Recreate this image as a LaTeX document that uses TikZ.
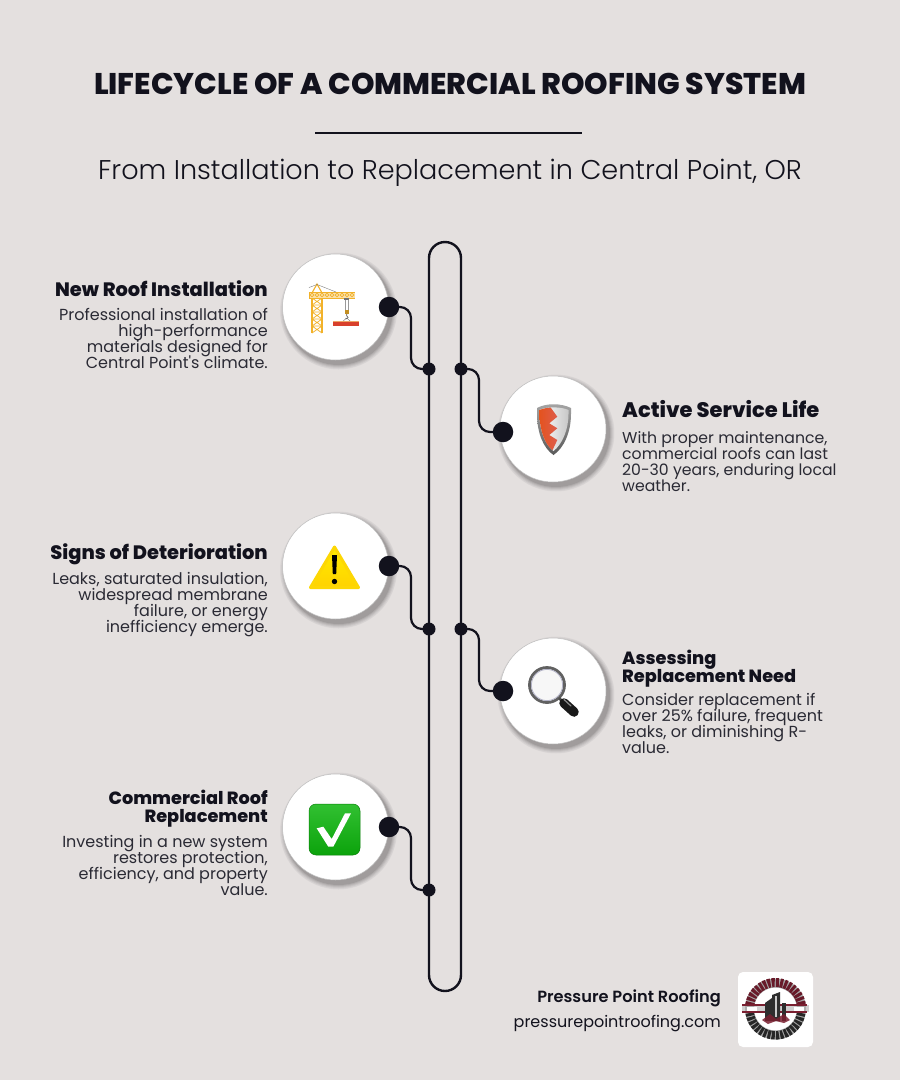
\documentclass[tikz,border=0pt]{standalone}
\usepackage{fontspec}
\setmainfont{Poppins}
\newfontfamily\pblack{Poppins ExtraBold}
\newfontfamily\plight{Poppins Light}
\newfontfamily\psemi{Poppins SemiBold}
\usetikzlibrary{calc}
\definecolor{bg}{HTML}{E4E0DF}
\definecolor{ink}{HTML}{12121D}
\definecolor{crane}{HTML}{F2B22A}
\definecolor{beam}{HTML}{D8402C}
\definecolor{okgreen}{HTML}{0DB50D}
\definecolor{maroon}{HTML}{7A1F30}
\newcommand{\tightlines}{\lineskiplimit=-20pt\relax}
\tikzset{
 x=1pt,y=-1pt,
 rail/.style={draw=ink,line width=2.4pt},
 link/.style={draw=ink,line width=2.2pt,rounded corners=11pt},
 bigdot/.style={circle,fill=ink,minimum size=20.5pt,inner sep=0pt},
 smalldot/.style={circle,fill=ink,minimum size=13pt,inner sep=0pt},
 disc/.style={circle,fill=white,draw=black!25,line width=.5pt,minimum size=106pt,inner sep=0pt},
 head/.style={font=\pblack\fontsize{17.7}{18}\selectfont\tightlines,text=ink,inner sep=0pt},
 headl/.style={font=\pblack\fontsize{19.4}{18}\selectfont,text=ink,inner sep=0pt},
 headr/.style={font=\pblack\fontsize{21}{18}\selectfont,text=ink,inner sep=0pt},
 body/.style={font=\fontsize{16}{16}\selectfont\tightlines,text=ink!90,inner sep=0pt},
 bodyr/.style={font=\fontsize{15.7}{16}\selectfont\tightlines,text=ink!90,inner sep=0pt},
}
\newcommand{\softshadow}[2]{%
 \foreach \r/\o in {58.5/.03,58/.03,57/.05,56/.06,55/.07,54/.09}{
  \fill[black,opacity=\o] (#1+3,#2+4) circle (\r pt);
 }}
\begin{document}
\begin{tikzpicture}
\useasboundingbox (0,0) rectangle (900,1080);
\fill[bg] (0,0) rectangle (900,1080);
% title
\node[font=\pblack\fontsize{29.9}{32}\selectfont,text=ink,inner sep=0pt] (title) at (450,84) {LIFECYCLE OF A COMMERCIAL ROOFING SYSTEM};
\coordinate (hrl) at (315,132.5); \coordinate (hrr) at (582,132.5);
\draw[ink,line width=2pt] (hrl) -- (hrr);
\node[font=\plight\fontsize{27.1}{30}\selectfont,text=ink,inner sep=0pt] (sub) at (450,172.5) {From Installation to Replacement in Central Point, OR};
% rail
\draw[rail,rounded corners=16pt] (429,242) rectangle (461,991);
% shadows + discs
\softshadow{335.5}{307}\softshadow{553}{429}\softshadow{335.5}{566}\softshadow{553}{691}\softshadow{335.5}{827}
\node[disc] (c1) at (335.5,307) {};
\node[disc] (c2) at (553,429) {};
\node[disc] (c3) at (335.5,566) {};
\node[disc] (c4) at (553,691) {};
\node[disc] (c5) at (335.5,827) {};
% dots
\node[bigdot] (d1) at (389,307) {};
\node[bigdot] (d2) at (503,432) {};
\node[bigdot] (d3) at (389,566) {};
\node[bigdot] (d4) at (503,691) {};
\node[bigdot] (d5) at (389,827) {};
\node[smalldot] (j1) at (429,369) {};
\node[smalldot] (j2) at (461,369) {};
\node[smalldot] (j3) at (429,629) {};
\node[smalldot] (j4) at (461,629) {};
\node[smalldot] (j5) at (429,890) {};
\coordinate (m1) at (411,340); \coordinate (m2) at (479,400);
\coordinate (m3) at (411,600); \coordinate (m4) at (479,660);
\coordinate (m5) at (411,860);
\draw[link] (d1.center) -| (m1) |- (j1.center);
\draw[link] (j2.center) -| (m2) |- (d2.center);
\draw[link] (d3.center) -| (m3) |- (j3.center);
\draw[link] (j4.center) -| (m4) |- (d4.center);
\draw[link] (d5.center) -| (m5) |- (j5.center);
% texts left
\node[headl,anchor=base east] (h1) at (268,296) {New Roof Installation};
\node[body,anchor=north east,align=right] (b1) at (268,308.5) {Professional installation of\\high-performance\\materials designed for\\Central Point\textquotesingle s climate.};
\node[headl,anchor=base east] (h3) at (268,559) {Signs of Deterioration};
\node[body,anchor=north east,align=right] (b3) at (268,572.5) {Leaks, saturated insulation,\\widespread membrane\\failure, or energy\\inefficiency emerge.};
\node[head,anchor=north east,align=right] (h5) at (268,790) {Commercial Roof\\Replacement};
\node[body,anchor=north east,align=right] (b5) at (268,835.5) {Investing in a new system\\restores protection,\\efficiency, and property\\value.};
% texts right
\node[headr,anchor=base west] (h2) at (622,417) {Active Service Life};
\node[bodyr,anchor=north west,align=left] (b2) at (622,431.5) {With proper maintenance,\\commercial roofs can last\\20-30 years, enduring local\\weather.};
\node[head,anchor=north west,align=left] (h4) at (622,650) {Assessing\\Replacement Need};
\node[body,anchor=north west,align=left] (b4) at (622,693.5) {Consider replacement if\\over 25\% failure, frequent\\leaks, or diminishing R-\\value.};
% footer
\node[font=\psemi\fontsize{16.2}{18}\selectfont,text=ink,anchor=base east,inner sep=0pt] (f1) at (721,1002) {Pressure Point Roofing};
\node[font=\fontsize{16}{18}\selectfont,text=ink,anchor=base east,inner sep=0pt] (f2) at (721,1027) {pressurepointroofing.com};
% logo
\fill[white,rounded corners=5pt] (738,972) rectangle (813,1047);
\draw[black!35,line width=9pt] (775.5,1009) circle (26pt);
\draw[maroon!85!black,line width=9pt,dash pattern=on 3pt off 1.2pt] (749.6,1005) arc (172:8:26.2pt);
\draw[black!85,line width=8.5pt,dash pattern=on 3pt off 1.2pt] (801.2,1013) arc (-8:-172:26pt);
\fill[black!30,opacity=.6] (742,1005) rectangle (809,1012);
\fill[maroon] (742,1004) rectangle (807,1006);
\fill[maroon] (742,1011) rectangle (807,1012.5);
\fill[white] (747,1006.5) rectangle (757,1010.5);
\fill[white] (794,1006.5) rectangle (804,1010.5);
\fill[black!82] (765,1021) -- (765,1003) -- (772,998) -- (772,995) -- (780,992) -- (780,1021) -- cycle;
\fill[black!82] (782,1003) rectangle (786,1021);
\fill[white,opacity=.75] (775,996) rectangle (777,1017);
\fill[maroon,opacity=.85] (762,1020) -- (770,1014) -- (776,1019) -- (784,1014) -- (790,1020) -- (784,1023) -- (776,1021) -- (768,1024) -- cycle;
% crane
\begin{scope}
 \draw[crane,line width=1.1pt] (312,332.5) -- (312,298) (322,332.5) -- (322,298);
 \foreach \y in {298,305,312,319,326}{\draw[crane,line width=.75pt] (312,\y) -- (322,\y+7) (322,\y) -- (312,\y+7) (312,\y) -- (322,\y);}
 \fill[crane!40!white] (309,292) rectangle (355,298);
 \draw[crane,line width=1pt] (309,292) -- (355,292) (309,298) -- (355,298) (309,292) -- (309,298);
 \foreach \x in {312,317,...,352}{\draw[crane,line width=.7pt] (\x,295) circle (1.9pt);}
 \draw[crane,line width=1.1pt] (312.5,292) -- (317,284) -- (321.5,292);
 \draw[black!55,line width=.35pt] (309,287.5) -- (317,284.5) -- (336,292);
 \fill[black!55] (344,297.5) rectangle (349,300);
 \draw[black!40,line width=.5pt] (345.5,300) -- (345.5,310) (348,300) -- (348,310);
 \fill[crane!80!black] (344.5,309.5) rectangle (349,314);
 \draw[black!70,line width=.6pt] (346.7,314) -- (346.7,316) arc (90:-150:1.4pt);
 \draw[black!55,line width=.4pt] (346.7,318) -- (338,325.5) (346.7,318) -- (355,325.5);
 \fill[beam] (333,321) rectangle (359,325.5);
 \fill[crane!60!white,opacity=.7] (333,321) rectangle (359,321.8);
\end{scope}
% shield
\shade[top color=black!35,bottom color=black!65] (537,408) .. controls (546,403) and (561,403) .. (571,408) -- (571,414) .. controls (571,432) and (564,448) .. (553.5,455) .. controls (543,448) and (537,432) .. (537,414) -- cycle;
\shade[left color=white,right color=black!22] (539.5,410) .. controls (546,406.5) and (561,406.5) .. (568.5,410) -- (568.5,414) .. controls (568.5,430) and (562,444.5) .. (553.5,451) .. controls (545,444.5) and (539.5,430) .. (539.5,414) -- cycle;
\shade[left color=beam!70!orange,right color=beam!85!white] (539.5,410) .. controls (543,408.5) and (547,407.8) .. (550.7,407.6) -- (557.3,416.7) -- (549.3,423.3) -- (557.3,428.3) -- (549.3,435) -- (557.3,440) -- (552.5,450.2) .. controls (545,444.5) and (539.5,430) .. (539.5,414) -- cycle;
% warning
\draw[line join=round,line width=3pt,draw=yellow!75!orange,top color=yellow!85!orange,bottom color=yellow!65!orange] (334.5,547) -- (358.5,587.5) -- (310.5,587.5) -- cycle;
\fill[black] (332,555) -- (337,555) -- (336.2,574) -- (332.8,574) -- cycle;
\fill[black] (334.5,581.5) circle (2.7pt);
% magnifier
\draw[black!62,line width=2.8pt,fill=black!3] (547,685) circle (17.5pt);
\draw[blue!25!black!30,line width=.8pt] (547,685) circle (15.6pt);
\draw[black!70,line width=2.5pt] (559,698) -- (565,704);
\draw[black!90,line width=9.5pt,line cap=round] (564,703) -- (574,712);
\draw[black!45,line width=1.2pt,line cap=round] (564,699.5) -- (571,706);
% check
\shade[top color=okgreen!85!white,bottom color=okgreen!90!black,rounded corners=7pt] (309,804) rectangle (360,855);
\draw[okgreen!70!black,line width=.5pt,rounded corners=7pt] (309,804) rectangle (360,855);
\fill[white] (316.7,828.3) -- (323.3,826.7) -- (331.7,839) -- (345,813.3) -- (351,813.3) -- (333.3,846.7) -- (328.3,846.7) -- cycle;
\end{tikzpicture}
\end{document}
